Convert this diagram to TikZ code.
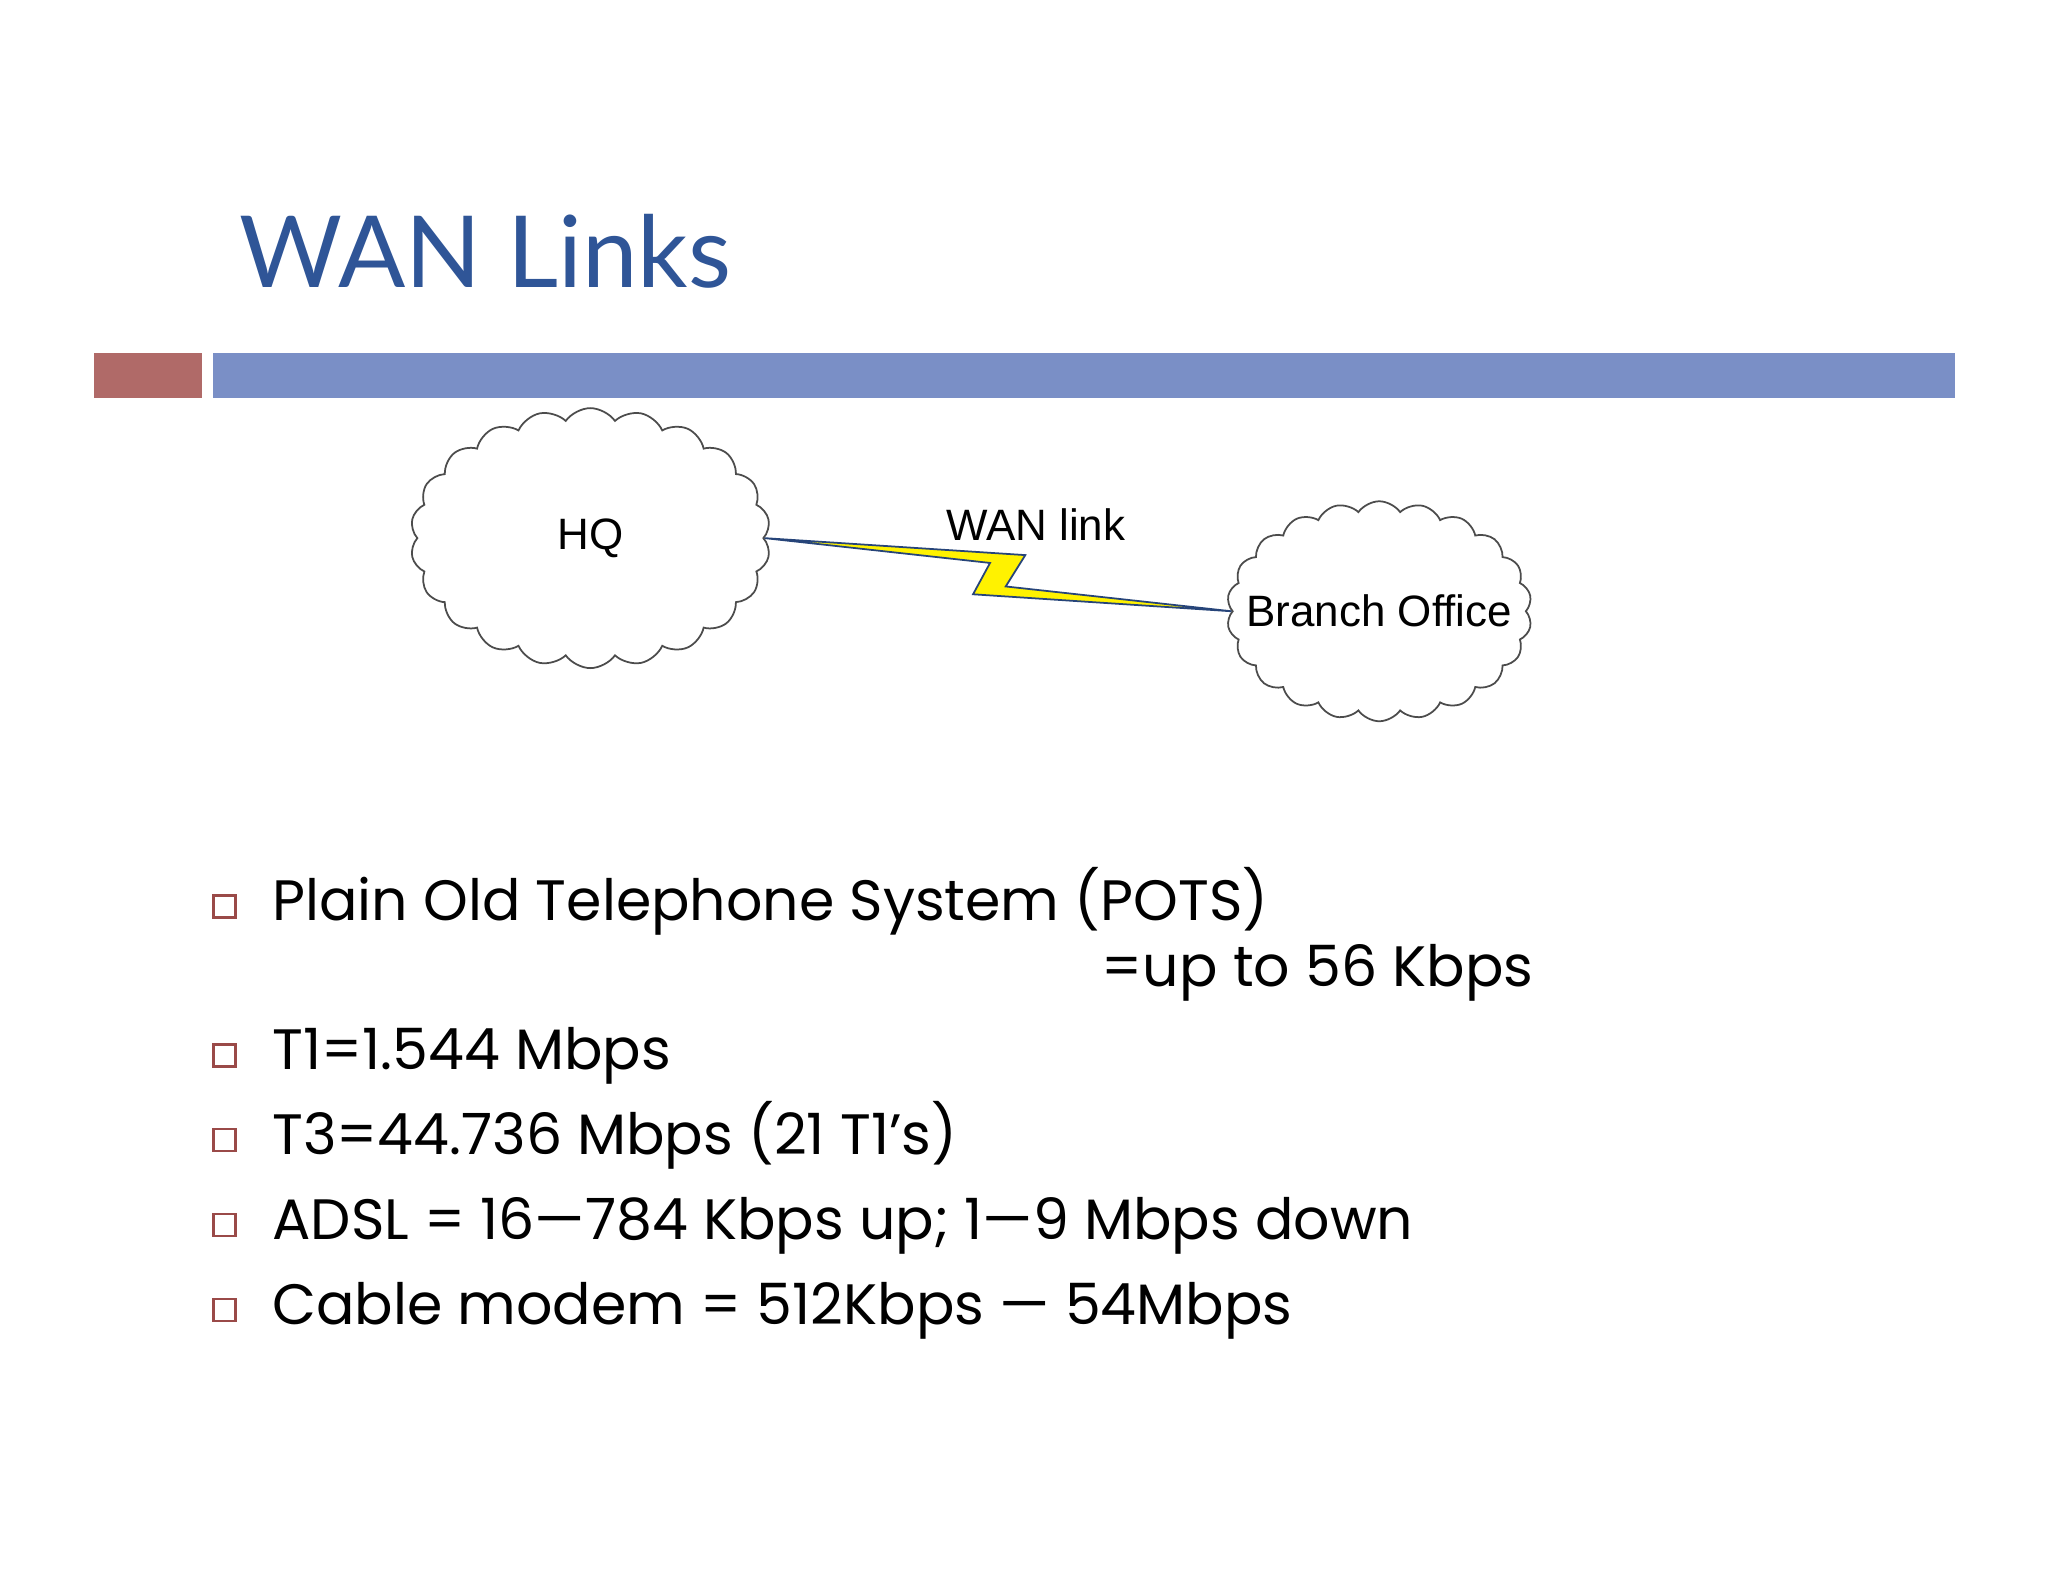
\documentclass[tikz,border=0pt]{standalone}
\usepackage{fontspec}
\setmainfont{Poppins}
\newfontfamily\arialf{Liberation Sans}
\newfontfamily\titlef{Lato}
\usetikzlibrary{shapes.symbols}
\definecolor{titleblue}{HTML}{2F5597}
\definecolor{barred}{HTML}{B06A68}
\definecolor{barblue}{HTML}{7A8FC6}
\definecolor{bulletc}{HTML}{9A4A48}
\begin{document}
\begin{tikzpicture}[x=0.01306cm,y=-0.01306cm,
  cloudn/.style={cloud,cloud puffs=22,cloud puff arc=110,draw=black!70,line width=0.5pt,aspect=1.4,font=\arialf\fontsize{12.5}{15}\selectfont},
  bul/.style={draw=bulletc,line width=0.7pt,minimum size=0.22cm,inner sep=0pt},
  btext/.style={anchor=base west,font=\fontsize{16.2}{20}\selectfont,inner sep=0pt}]
\useasboundingbox[fill=white] (0,0) rectangle (1568,1211);
\node[anchor=base west,inner sep=0pt,text=titleblue,font=\titlef\fontsize{28.3}{34}\selectfont] (title) at (183,220) {WAN Links};
\fill[barred] (72,270) rectangle (155,305);
\fill[barblue] (163,270) rectangle (1497,305);
\node[cloudn,minimum width=3.6cm,minimum height=2.6cm] (hq) at (452,412) {HQ};
\node[cloudn,minimum width=3.05cm,minimum height=2.2cm,inner sep=-14pt,aspect=1.35] (br) at (1056,468) {Branch Office};
\filldraw[fill=yellow,draw=titleblue!80!black,line width=0.5pt]
  (hq.east) -- (785,425) -- (770,449) -- (br.west) -- (745,455) -- (758,431) -- cycle;
\node[font=\arialf\fontsize{12.5}{15}\selectfont] (wl) at (793,402) {WAN link};
\node[bul] (b1) at (172,694) {};
\node[btext] (t1) at (208,705) {Plain Old Telephone System (POTS)};
\node[btext] (t1b) at (843,755) {=up to 56 Kbps};
\node[bul] (b2) at (172,808) {};
\node[btext] (t2) at (208,819) {T1=1.544 Mbps};
\node[bul] (b3) at (172,873) {};
\node[btext] (t3) at (208,884) {T3=44.736 Mbps (21 T1’s)};
\node[bul] (b4) at (172,938) {};
\node[btext] (t4) at (208,949) {ADSL = 16—784 Kbps up; 1—9 Mbps down};
\node[bul] (b5) at (172,1003) {};
\node[btext] (t5) at (208,1014) {Cable modem = 512Kbps — 54Mbps};
\end{tikzpicture}
\end{document}
